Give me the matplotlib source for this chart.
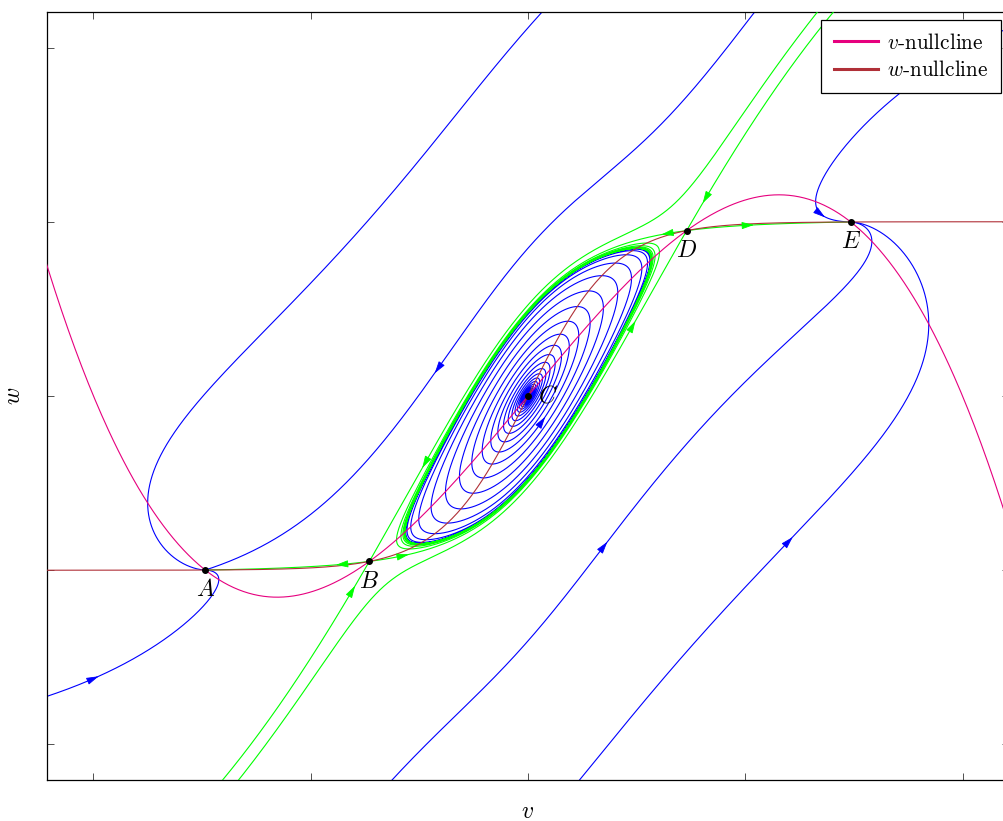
import math
import numpy as np
import matplotlib
matplotlib.use("Agg")
import matplotlib.pyplot as plt
from matplotlib.lines import Line2D

plt.rcParams['font.family'] = 'serif'
plt.rcParams['font.serif'] = ['cmr10', 'DejaVu Serif']
plt.rcParams['mathtext.fontset'] = 'cm'
plt.rcParams['axes.unicode_minus'] = False

# model: v' = a1*v - a3*v^3 - w ,  w' = eps*(tanh(k*v) - w)
a1, a3 = 1.5, 0.375
k_w = 2.5
eps = 1.42

# equilibria (labels and brackets for the root search)
eq_labels = ['A', 'B', 'C', 'D', 'E']
eq_brackets = [(-1.8, -1.2), (-1.0, -0.4), (-0.2, 0.2), (0.4, 1.0), (1.2, 1.8)]
label_offsets = [(0, -14.5), (0, -14.5), (14.5, 0), (0, -14.5), (0, -14.5)]

# blue trajectories: seed points (v, w) and whether the seed carries an arrow
traj_seeds = [(-0.419, 0.149), (-0.221, 1.785), (-1.993, -1.618),
              (0.354, -0.855), (1.206, -0.826), (1.353, 1.039)]
traj_arrow = [True, False, True, True, True, True]
spiral_seed = (0.069, -0.138)

# arrow spots on the saddle separatrices
sep_arrows = [(-0.796, -1.113), (-0.865, -0.976), (-0.566, -0.918), (-0.474, -0.396),
              (0.631, 0.935), (1.022, 0.981), (0.815, 1.125), (0.493, 0.407)]

blue = '#0000ff'
green = '#00ff00'
c_vnull = '#e6007e'
c_wnull = '#b03038'


def f_v(v):
    return a1 * v - a3 * v ** 3


def rhs(v, w):
    return a1 * v - a3 * v ** 3 - w, eps * (math.tanh(k_w * v) - w)


def integrate(v, w, T, sign=1, dt=0.004, lim=2.45):
    vs, ws = [v], [w]
    h = dt * sign
    for _ in range(int(T / dt)):
        k1 = rhs(v, w)
        k2 = rhs(v + h / 2 * k1[0], w + h / 2 * k1[1])
        k3 = rhs(v + h / 2 * k2[0], w + h / 2 * k2[1])
        k4 = rhs(v + h * k3[0], w + h * k3[1])
        v += h / 6 * (k1[0] + 2 * k2[0] + 2 * k3[0] + k4[0])
        w += h / 6 * (k1[1] + 2 * k2[1] + 2 * k3[1] + k4[1])
        vs.append(v)
        ws.append(w)
        if abs(v) > lim or abs(w) > lim:
            break
    return np.array(vs), np.array(ws)


def root(a, b):
    h = lambda v: f_v(v) - math.tanh(k_w * v)
    for _ in range(80):
        m = (a + b) / 2
        if h(a) * h(m) <= 0:
            b = m
        else:
            a = m
    return (a + b) / 2


def full_traj(v0, w0, Tf, Tb):
    xf, yf = integrate(v0, w0, Tf, 1)
    xb, yb = integrate(v0, w0, Tb, -1)
    return np.concatenate([xb[::-1], xf[1:]]), np.concatenate([yb[::-1], yf[1:]])


def add_arrow(ax, x, y, i, color):
    i = max(2, min(i, len(x) - 3))
    p0 = ax.transData.transform((x[i - 2], y[i - 2]))
    p1 = ax.transData.transform((x[i + 2], y[i + 2]))
    d = p1 - p0
    d = d / np.hypot(*d)
    tip = ax.transData.transform((x[i], y[i])) + 4 * d
    tail = tip - 8 * d
    inv = ax.transData.inverted()
    ax.annotate('', xy=inv.transform(tip), xytext=inv.transform(tail),
                arrowprops=dict(arrowstyle='-|>,head_length=0.75,head_width=0.22',
                                color=color, lw=0.6, shrinkA=0, shrinkB=0),
                zorder=5)


fig = plt.figure(figsize=(10.04, 8.21), dpi=100)
ax = fig.add_axes([47 / 1004, 1 - 780 / 821, 962 / 1004, 768 / 821])
ax.set_xlim(-2.214, 2.214)
ax.set_ylim(-2.204, 2.204)

# blue trajectories
for (v0, w0), arr in zip(traj_seeds, traj_arrow):
    x, y = full_traj(v0, w0, 40, 40)
    ax.plot(x, y, color=blue, lw=0.8, zorder=2)
    if arr:
        i = int(np.argmin(np.hypot(x - v0, y - w0)))
        add_arrow(ax, x, y, i, blue)

xs, ys = full_traj(spiral_seed[0], spiral_seed[1], 160, 160)
ax.plot(xs, ys, color=blue, lw=0.8, zorder=2)
add_arrow(ax, xs, ys, int(np.argmin(np.hypot(xs - spiral_seed[0], ys - spiral_seed[1]))), blue)

# equilibria
eq_v = [root(a, b) for a, b in eq_brackets]
eq_w = [math.tanh(k_w * v) for v in eq_v]

# separatrices of the saddles B and D
branches = []
for j in (1, 3):
    vs, ws = eq_v[j], eq_w[j]
    J = np.array([[a1 - 3 * a3 * vs ** 2, -1.0],
                  [eps * k_w / math.cosh(k_w * vs) ** 2, -eps]])
    lam, vec = np.linalg.eig(J)
    for m in range(2):
        s = 1 if lam[m] > 0 else -1
        T = 70 if s > 0 else 40
        for d in (1, -1):
            x, y = integrate(vs + d * 1e-5 * vec[0, m], ws + d * 1e-5 * vec[1, m], T, s)
            if s < 0:
                x, y = x[::-1], y[::-1]
            branches.append((x, y))
            ax.plot(x, y, color=green, lw=0.8, zorder=3)

for (av, aw) in sep_arrows:
    best = None
    for x, y in branches:
        dist = np.hypot(x - av, y - aw)
        i = int(np.argmin(dist))
        if best is None or dist[i] < best[0]:
            best = (dist[i], x, y, i)
    add_arrow(ax, best[1], best[2], best[3], green)

# nullclines
vv = np.linspace(-2.3, 2.3, 600)
ax.plot(vv, f_v(vv), color=c_vnull, lw=0.8, zorder=4)
ax.plot(vv, np.tanh(k_w * vv), color=c_wnull, lw=0.8, zorder=4)

ax.plot(eq_v, eq_w, 'o', color='black', ms=4, zorder=6)
for lab, v, w, off in zip(eq_labels, eq_v, eq_w, label_offsets):
    ax.annotate('$%s$' % lab, (v, w), xytext=off, textcoords='offset points',
                ha='center', va='center', fontsize=17, zorder=7)

ax.set_xticks([-2, -1, 0, 1, 2])
ax.set_yticks([-2, -1, 0, 1, 2])
ax.tick_params(direction='in', top=True, right=True, length=5, width=0.6,
               labelbottom=False, labelleft=False, color='#333333')
for sp in ax.spines.values():
    sp.set_linewidth(0.9)

ax.set_xlabel('$v$', fontsize=17, labelpad=15)
ax.set_ylabel('$w$', fontsize=17, labelpad=15.5)

handles = [Line2D([], [], color=c_vnull, lw=2.2), Line2D([], [], color=c_wnull, lw=2.2)]
leg = ax.legend(handles, ['$v$-nullcline', '$w$-nullcline'], loc='upper right',
                fontsize=15.3, handlelength=2.1, handletextpad=0.4, borderpad=0.58,
                labelspacing=0.35, borderaxespad=0.4, fancybox=False, framealpha=1)
leg.get_frame().set_edgecolor('black')
leg.get_frame().set_linewidth(0.9)

fig.savefig("out.png", dpi=100)
